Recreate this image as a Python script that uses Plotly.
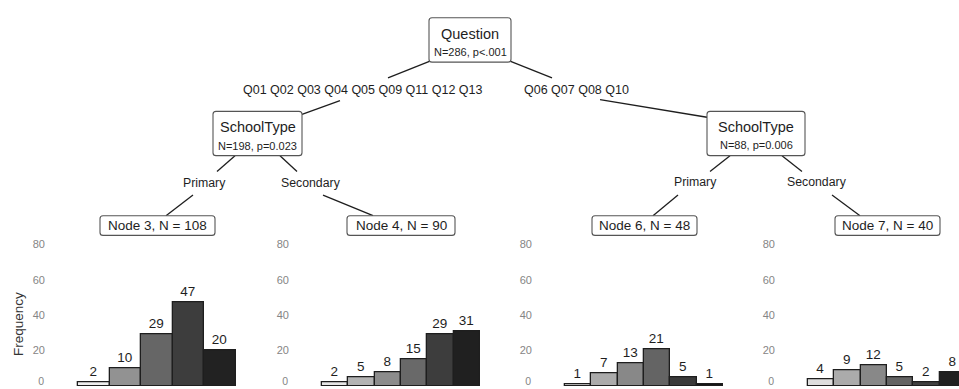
import plotly.graph_objects as go

# ---------------- data ----------------
node_titles = ["Node 3, N = 108", "Node 4, N = 90", "Node 6, N = 48", "Node 7, N = 40"]
node3_counts = [2, 10, 29, 47, 20]
node4_counts = [2, 5, 8, 15, 29, 31]
node6_counts = [1, 7, 13, 21, 5, 1]
node7_counts = [4, 9, 12, 5, 2, 8]
y_ticks = [0, 20, 40, 60, 80]

root_label = ["Question", "N=286, p<.001"]
left_split = ["SchoolType", "N=198, p=0.023"]
right_split = ["SchoolType", "N=88, p=0.006"]
edge_root = ["Q01 Q02 Q03 Q04 Q05 Q09 Q11 Q12 Q13", "Q06 Q07 Q08 Q10"]
edge_school = ["Primary", "Secondary"]

# ---------------- styling ----------------
W, H = 959, 389
FONT = "Liberation Sans, Arial, sans-serif"
INK = "#1e1e1e"
TICK = "#858585"
panel_colors = [
    ["#eeeeee", "#929292", "#666666", "#3d3d3d", "#222222"],
    ["#e6e6e6", "#b3b3b3", "#8c8c8c", "#696969", "#3d3d3d", "#202020"],
    ["#dddddd", "#ababab", "#888888", "#646464", "#3a3a3a", "#151515"],
    ["#dedede", "#ababab", "#888888", "#646464", "#404040", "#202020"],
]
panel_counts = [node3_counts, node4_counts, node6_counts, node7_counts]
bar_left_px = [78, 322, 565, 808]
bar_area_px = 158
axis_gap_px = 32
y0_px, y80_px = 386, 242

fig = go.Figure()

# tree overlay axis in pixel units
fig.layout["xaxis5"] = dict(domain=[0, 1], range=[0, W], visible=False, fixedrange=True, anchor="y5")
fig.layout["yaxis5"] = dict(domain=[0, 1], range=[H, 0], visible=False, fixedrange=True, anchor="x5")

zero_x = []
for i, counts in enumerate(panel_counts):
    n = len(counts)
    L = bar_left_px[i]
    A = L - axis_gap_px
    R = min(L + bar_area_px, W)
    xr = [-0.5 - (L - A) * n / bar_area_px, -0.5 + (R - L) * n / bar_area_px]
    xa = "x" if i == 0 else f"x{i+1}"
    ya = "y" if i == 0 else f"y{i+1}"
    fig.add_trace(go.Bar(
        x=list(range(n)), y=counts, xaxis=xa, yaxis=ya,
        width=1.0,
        marker=dict(color=panel_colors[i], line=dict(color=INK, width=1.3)),
        text=[str(c) for c in counts], textposition="outside",
        textfont=dict(family=FONT, size=13.5, color=INK),
        cliponaxis=False, showlegend=False, hoverinfo="skip",
    ))
    kx = "xaxis" if i == 0 else f"xaxis{i+1}"
    ky = "yaxis" if i == 0 else f"yaxis{i+1}"
    fig.layout[kx] = dict(domain=[A / W, R / W], range=xr, visible=False, fixedrange=True,
                          anchor=ya)
    fig.layout[ky] = dict(domain=[(H - y0_px) / H, (H - y80_px) / H], range=[0, 80],
                          tickvals=y_ticks[1:], showgrid=False, zeroline=False, showline=False,
                          ticks="", tickfont=dict(family=FONT, size=11, color=TICK),
                          anchor=xa, fixedrange=True)
    zero_x.append(A - 2)

# the "0" tick labels, kept just inside the bottom edge
fig.add_trace(go.Scatter(x=zero_x, y=[y0_px - 3.5] * 4, mode="text", text=[str(y_ticks[0])] * 4,
                         textposition="middle left", xaxis="x5", yaxis="y5", cliponaxis=False,
                         textfont=dict(family=FONT, size=10.5, color=TICK),
                         showlegend=False, hoverinfo="skip"))

edges = [
    ((430, 56), (388, 73)), ((510, 56), (552, 73)),
    ((340, 96), (302, 110)), ((600, 95), (707, 113)),
    ((235, 152), (217, 168)), ((280, 152), (297, 168)),
    ((193, 192), (166, 213)), ((323, 192), (373, 213)),
    ((730, 152), (710, 168)), ((782, 152), (802, 168)),
    ((678, 192), (653, 213)), ((832, 192), (860, 213)),
]
for (x0, y0), (x1, y1) in edges:
    fig.add_trace(go.Scatter(x=[x0, x1], y=[y0, y1], mode="lines", xaxis="x5", yaxis="y5",
                             line=dict(color=INK, width=1.3), showlegend=False, hoverinfo="skip"))


def rrect(x0, y0, x1, y1, r=3):
    return (f"M {x0+r},{y0} L {x1-r},{y0} Q {x1},{y0} {x1},{y0+r} "
            f"L {x1},{y1-r} Q {x1},{y1} {x1-r},{y1} L {x0+r},{y1} "
            f"Q {x0},{y1} {x0},{y1-r} L {x0},{y0+r} Q {x0},{y0} {x0+r},{y0} Z")


boxes = [
    (429, 12, 511, 57), (213, 107, 302, 152), (707, 107, 805, 152),
    (100, 213, 215, 233), (347, 213, 455, 233), (592, 213, 697, 233), (835, 213, 940, 233),
]
shapes = []
for b in boxes:
    shapes.append(dict(type="path", path=rrect(*b), xref="x5", yref="y5",
                       line=dict(color="#555555", width=1.1), fillcolor="white", layer="above"))
fig.update_layout(shapes=shapes)

ann = []


def txt(x, y, s, size):
    ann.append(dict(x=x, y=y, xref="x5", yref="y5", text=s, showarrow=False,
                    font=dict(family=FONT, size=size, color=INK), xanchor="center", yanchor="middle"))


txt(470, 28, root_label[0], 14.5)
txt(470, 47, root_label[1], 11)
txt(257.5, 123, left_split[0], 14.5)
txt(257.5, 142, left_split[1], 11)
txt(756, 123, right_split[0], 14.5)
txt(756, 141, right_split[1], 11)
txt(363, 85, edge_root[0], 12.5)
txt(576, 85, edge_root[1], 12.5)
txt(204, 180, edge_school[0], 12.3)
txt(311, 180, edge_school[1], 12.3)
txt(695, 179, edge_school[0], 12.3)
txt(817, 179, edge_school[1], 12.3)
for (x0, y0, x1, y1), t in zip(boxes[3:], node_titles):
    txt((x0 + x1) / 2, (y0 + y1) / 2, t, 13.5)
ann.append(dict(x=18, y=323, xref="x5", yref="y5", text="Frequency", showarrow=False, textangle=-90,
                font=dict(family=FONT, size=13.5, color="#333333"), xanchor="center", yanchor="middle"))
fig.update_layout(annotations=ann)

fig.update_layout(width=W, height=H, margin=dict(l=0, r=0, t=0, b=0),
                  paper_bgcolor="white", plot_bgcolor="rgba(0,0,0,0)",
                  bargap=0, showlegend=False)

fig.write_html("out.html", config={"displayModeBar": False})
